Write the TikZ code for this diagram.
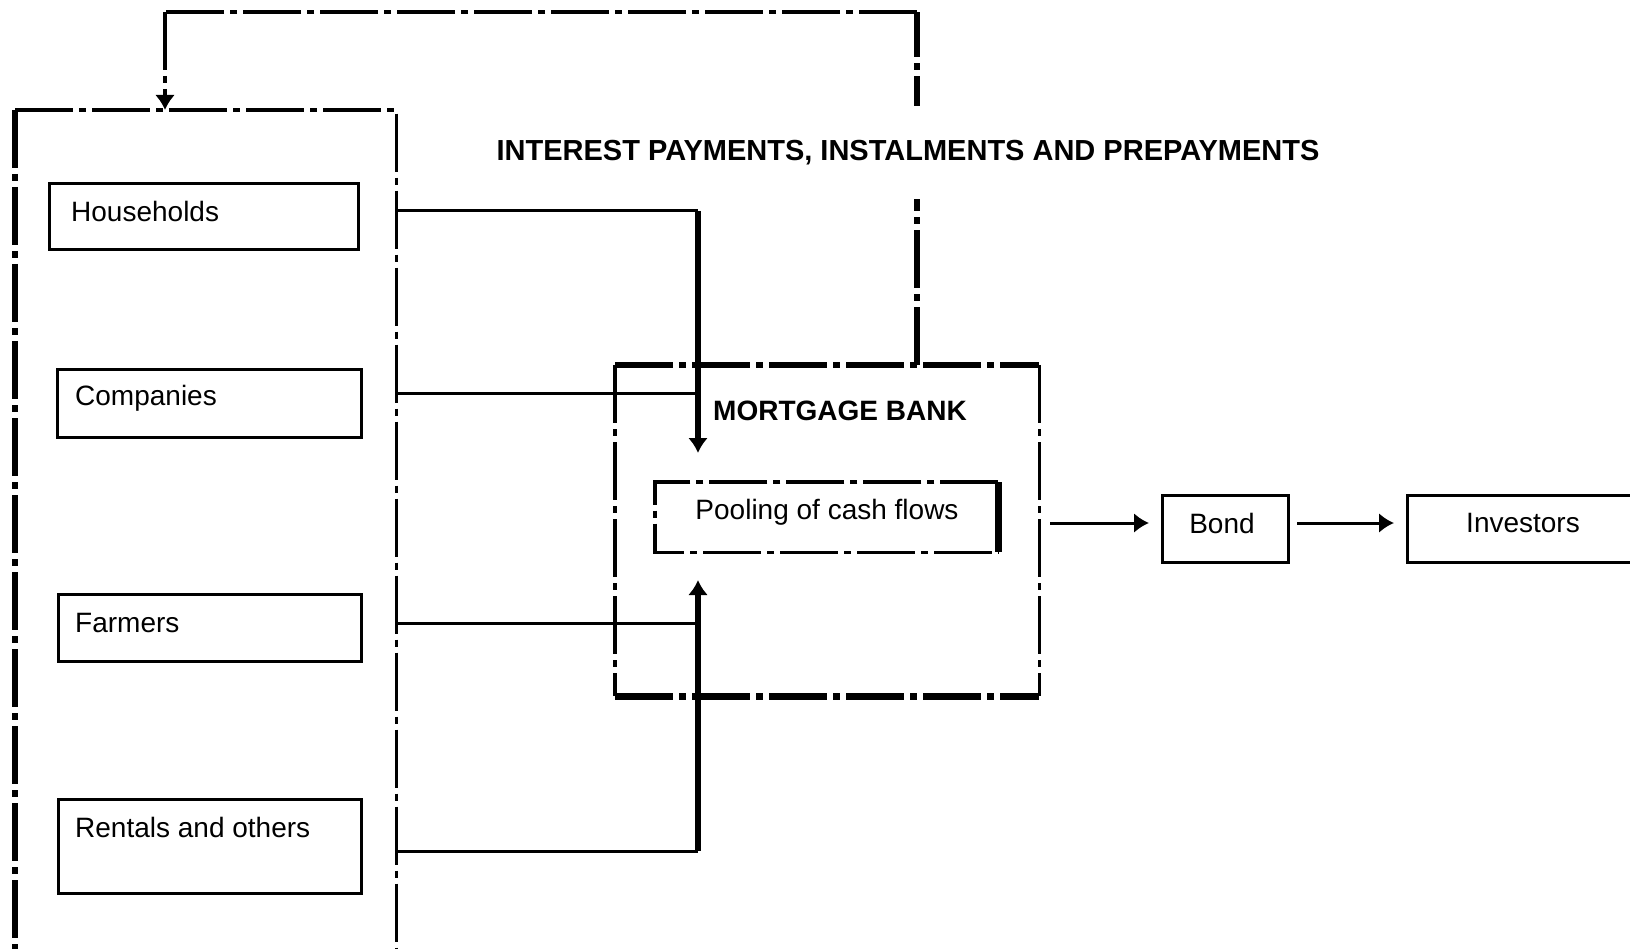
\documentclass[tikz,border=0pt]{standalone}
\usepackage{fontspec}
\setmainfont{Liberation Sans}
\usetikzlibrary{arrows.meta}
\tikzset{
  dd/.style={dash pattern=on 58pt off 6pt on 7pt off 6pt},
  solidbox/.style={draw, line width=3pt, anchor=north west, inner sep=0pt},
  emptybox/.style={draw=none, anchor=north west, inner sep=0pt},
  lbl/.style={font=\fontsize{28}{32}\selectfont, inner sep=0pt},
  blbl/.style={font=\fontsize{28}{32}\selectfont\bfseries, inner sep=0pt},
  conn/.style={line width=3pt},
  thickconn/.style={line width=6.5pt},
  arrowtip/.style={-{Latex[length=15pt,width=20pt]}}
}
\begin{document}
\begin{tikzpicture}[x=1pt,y=-1pt]
\useasboundingbox (0,0) rectangle (1630,949);

% outer sector box
\node[emptybox, minimum width=381pt, minimum height=900pt] (outer) at (15,110) {};
\draw[dd, line width=6pt] (outer.north west) -- (outer.south west);
\draw[dd, line width=3.5pt] (outer.north west) -- (outer.north east) -- (outer.south east);

% sector boxes
\node[solidbox, minimum width=309pt, minimum height=66pt] (hh) at (48,182) {};
\node[solidbox, minimum width=304pt, minimum height=68pt] (comp) at (56,368) {};
\node[solidbox, minimum width=303pt, minimum height=67pt] (farm) at (57,593) {};
\node[solidbox, minimum width=303pt, minimum height=94pt] (rent) at (57,798) {};
\node[lbl, anchor=west] (hht) at (71,211) {Households};
\node[lbl, anchor=west] (compt) at (75,398) {Companies};
\node[lbl, anchor=west] (farmt) at (75,623) {Farmers};
\node[lbl, anchor=west] (rentt) at (75,827) {Rentals and others};

% mortgage bank
\node[emptybox, minimum width=424pt, minimum height=331pt] (mb) at (615,365) {};
\draw[dd, line width=6.5pt] (mb.north west) -- (mb.north east);
\draw[dd, line width=6.5pt] (mb.south west) -- (mb.south east);
\draw[dd, line width=3.5pt] (mb.north west) -- (mb.south west);
\draw[dd, line width=3.5pt] (mb.north east) -- (mb.south east);
\node[blbl, anchor=west] (mbt) at (713,411) {MORTGAGE BANK};

% pooling
\node[emptybox, minimum width=343pt, minimum height=70pt] (pool) at (655,482) {};
\draw[dd, line width=3.5pt] (pool.north east) -- (pool.north west) -- (pool.south west) -- (pool.south east);
\draw[line width=7pt] (pool.north east) -- (pool.south east);
\node[lbl] (poolt) at (827,512) {Pooling of cash flows};

% bond and investors
\node[solidbox, minimum width=126pt, minimum height=67pt] (bond) at (1161,494) {};
\node[lbl] (bondt) at (1222,523) {Bond};
\node[solidbox, minimum width=300pt, minimum height=67pt] (inv) at (1406,494) {};
\node[lbl] (invt) at (1523,523) {Investors};

% flows into the mortgage bank
\coordinate (j1) at (698,211);
\coordinate (j2) at (698,393);
\coordinate (j3) at (698,623);
\coordinate (j4) at (698,851);
\coordinate (a1) at (698,453);
\coordinate (a2) at (698,580);
\draw[conn] (hht -| outer.east) -- (j1);
\draw[conn] (j2 -| outer.east) -- (j2);
\draw[conn] (j3 -| outer.east) -- (j3);
\draw[conn] (j4 -| outer.east) -- (j4);
\draw[thickconn, arrowtip] (j1) -- (a1);
\draw[thickconn, arrowtip] (j4) -- (a2);

% outflows
\coordinate (m1) at (1050,523);
\coordinate (b1) at (1297,523);
\draw[conn, arrowtip, shorten >=12pt] (m1) -- (m1 -| bond.west);
\draw[conn, arrowtip, shorten >=12pt] (b1) -- (b1 -| inv.west);

% feedback loop
\coordinate (fbtop) at (917,12);
\coordinate (fbleft) at (165,12);
\draw[dd, line width=6.5pt] (fbtop |- mb.north) -- (fbtop);
\draw[dd, line width=4pt] (fbtop) -- (fbleft);
\draw[dd, line width=4pt, arrowtip] (fbleft) -- (fbleft |- outer.north);
\node[blbl, font=\fontsize{29}{33}\selectfont\bfseries, fill=white, minimum height=93pt] (intl) at (908,153) {INTEREST PAYMENTS, INSTALMENTS AND PREPAYMENTS};
\end{tikzpicture}
\end{document}
